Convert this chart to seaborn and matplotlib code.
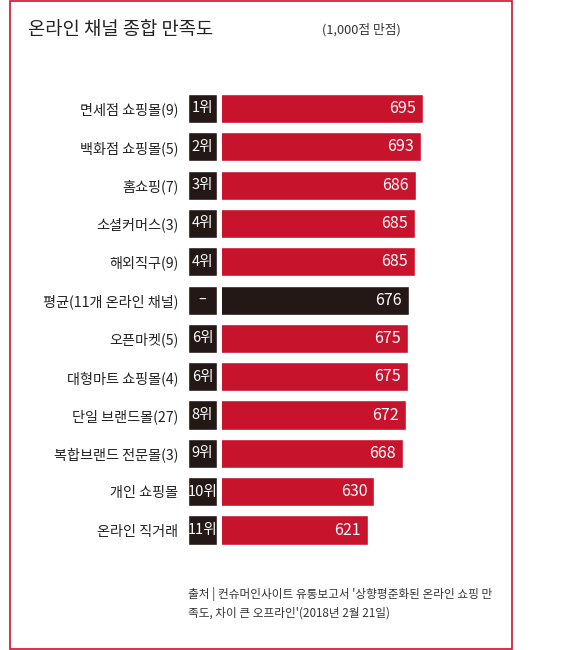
import matplotlib
matplotlib.use("Agg")
import matplotlib.pyplot as plt
import pandas as pd
import seaborn as sns
from matplotlib.patches import Rectangle

# 데이터
channels = ['면세점 쇼핑몰(9)', '백화점 쇼핑몰(5)', '홈쇼핑(7)', '소셜커머스(3)', '해외직구(9)',
            '평균(11개 온라인 채널)', '오픈마켓(5)', '대형마트 쇼핑몰(4)', '단일 브랜드몰(27)',
            '복합브랜드 전문몰(3)', '개인 쇼핑몰', '온라인 직거래']
scores = [695, 693, 686, 685, 685, 676, 675, 675, 672, 668, 630, 621]
ranks = ['1위', '2위', '3위', '4위', '4위', '–', '6위', '6위', '8위', '9위', '10위', '11위']

RED = '#c8132c'
DARK = '#231815'

sns.set_theme(style='white')
plt.rcParams['font.family'] = ['Noto Sans CJK KR', 'DejaVu Sans']

df = pd.DataFrame({'채널': channels, '점수': scores, '순위': ranks})
df['구분'] = ['평균' if r == '–' else '채널' for r in ranks]
df['박스'] = 1

W, H = 567, 650
fig = plt.figure(figsize=(W / 100, H / 100), dpi=100)

# 축 위치 (픽셀 기준)
top_px, bot_px = 89.3, 549.2
ax_b = 1 - bot_px / H
ax_h = (bot_px - top_px) / H

ax = fig.add_axes([222 / W, ax_b, (480 - 222) / W, ax_h])
sns.barplot(data=df, y='채널', x='점수', hue='구분', palette={'채널': RED, '평균': DARK},
            orient='h', width=0.76, dodge=False, legend=False, saturation=1, ax=ax)
ax.set_xlim(425, 772)
ax.set_ylim(11.5, -0.5)
ax.axis('off')
for i, v in enumerate(scores):
    ax.annotate(str(v), xy=(v, i), xytext=(-5, 0), textcoords='offset points',
                ha='right', va='center', color='white', fontsize=11.5, fontweight='light')

# 순위 박스
rk = fig.add_axes([188 / W, ax_b, (217 - 188) / W, ax_h])
sns.barplot(data=df, y='채널', x='박스', color=DARK, orient='h', width=0.76,
            saturation=1, ax=rk)
rk.set_xlim(0, 1)
rk.set_ylim(11.5, -0.5)
for s in rk.spines.values():
    s.set_visible(False)
rk.set_xticks([])
rk.set_xlabel('')
rk.set_ylabel('')
rk.tick_params(axis='y', length=0, pad=7, labelsize=10.2, labelcolor='#222222')
for i, r in enumerate(ranks):
    rk.text(0.5, i, r, ha='center', va='center', color='white', fontsize=10.5,
            fontweight='light')

# 제목
fig.text(28 / W, 1 - 30 / H, '온라인 채널 종합 만족도', fontsize=13.5, color='#222222',
         va='center', ha='left', fontweight='light')
fig.text(322 / W, 1 - 30 / H, '(1,000점 만점)', fontsize=9.2, color='#333333',
         va='center', ha='left', fontweight='light')

# 출처
fig.text(188 / W, 1 - 594 / H, "출처 | 컨슈머인사이트 유통보고서 '상향평준화된 온라인 쇼핑 만",
         fontsize=8.4, color='#333333', va='center', ha='left')
fig.text(188 / W, 1 - 613 / H, "족도, 차이 큰 오프라인'(2018년 2월 21일)",
         fontsize=8.4, color='#333333', va='center', ha='left')

# 테두리
fig.patches.append(Rectangle((9.5 / W, 1 - 648.5 / H), (512 - 9.5) / W, 648 / H,
                             transform=fig.transFigure, fill=False, edgecolor=RED,
                             linewidth=1.2))

fig.savefig('out.png', dpi=100)
